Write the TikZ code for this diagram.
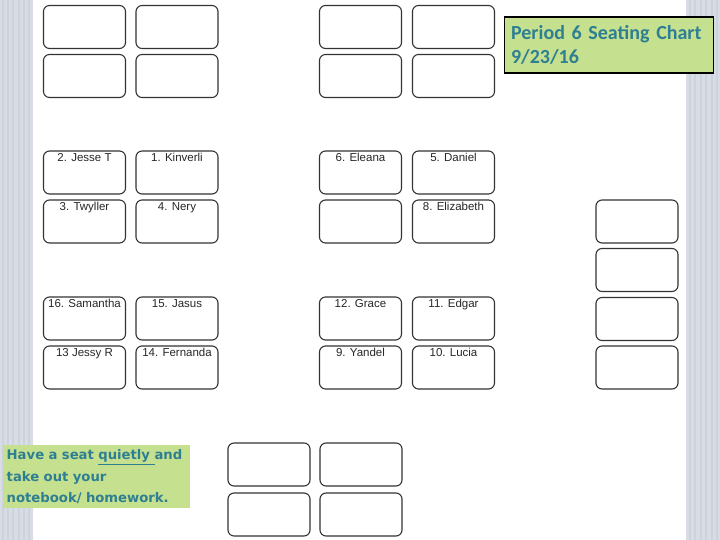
\documentclass[tikz,border=0pt]{standalone}
\usepackage{fontspec}
\setmainfont{Liberation Sans}
\newfontfamily\titlefont{Carlito}
\newfontfamily\notefont{DejaVu Sans}
\usetikzlibrary{positioning}

\definecolor{stripgray}{HTML}{D8DDE5}
\definecolor{stripline}{HTML}{CDD3DC}
\definecolor{notegreen}{HTML}{C5E08F}
\definecolor{noteteal}{HTML}{2F7F92}
\definecolor{deskline}{HTML}{333333}

\tikzset{
  desk/.style={draw=deskline, line width=1.1pt, rounded corners=6pt, minimum width=82pt, minimum height=43pt, inner sep=0pt},
  seat/.style={anchor=north, inner sep=0pt, yshift=-3pt, font=\fontsize{11.5}{13}\selectfont, text=black!85},
  notebox/.style={fill=notegreen, text=noteteal, anchor=north west, align=left}
}

\begin{document}
\begin{tikzpicture}[x=1pt,y=-1pt]

\useasboundingbox (0,0) rectangle (720,540);

\fill [stripgray] (0,0) rectangle (33,540);
\fill [stripgray] (686,0) rectangle (720,540);
\foreach \x in {3,8,13,19,24,29} \draw [stripline, line width=1.2pt] (\x,0) -- (\x,540);
\foreach \x in {690,695,701,706,712,717} \draw [stripline, line width=1.2pt] (\x,0) -- (\x,540);

\node [desk] (e1) at (84.5,27) {};
\node [desk] (e2) at (177,27) {};
\node [desk] (e3) at (84.5,76) {};
\node [desk] (e4) at (177,76) {};

\node [desk] (e5) at (360.5,27) {};
\node [desk] (e6) at (453.5,27) {};
\node [desk] (e7) at (360.5,76) {};
\node [desk] (e8) at (453.5,76) {};

\node [desk, label={[seat]north:2. Jesse T}] (s2) at (84.5,172.5) {};
\node [desk, label={[seat]north:1. Kinverli}] (s1) at (177,172.5) {};
\node [desk, label={[seat]north:3. Twyller}] (s3) at (84.5,221.5) {};
\node [desk, label={[seat]north:4. Nery}] (s4) at (177,221.5) {};

\node [desk, label={[seat]north:6. Eleana}] (s6) at (360.5,172.5) {};
\node [desk, label={[seat]north:5. Daniel}] (s5) at (453.5,172.5) {};
\node [desk] (e9) at (360.5,221.5) {};
\node [desk, label={[seat]north:8. Elizabeth}] (s8) at (453.5,221.5) {};

\node [desk, label={[seat]north:16. Samantha}] (s16) at (84.5,318.5) {};
\node [desk, label={[seat]north:15. Jasus}] (s15) at (177,318.5) {};
\node [desk, label={[seat]north:13 Jessy R}] (s13) at (84.5,367.5) {};
\node [desk, label={[seat]north:14. Fernanda}] (s14) at (177,367.5) {};

\node [desk, label={[seat]north:12. Grace}] (s12) at (360.5,318.5) {};
\node [desk, label={[seat]north:11. Edgar}] (s11) at (453.5,318.5) {};
\node [desk, label={[seat]north:9. Yandel}] (s9) at (360.5,367.5) {};
\node [desk, label={[seat]north:10. Lucia}] (s10) at (453.5,367.5) {};

\node [desk] (r1) at (637,221.5) {};
\node [desk] (r2) at (637,270) {};
\node [desk] (r3) at (637,319) {};
\node [desk] (r4) at (637,367.5) {};

\node [desk] (b1) at (269,464.5) {};
\node [desk] (b2) at (361,464.5) {};
\node [desk] (b3) at (269,514.5) {};
\node [desk] (b4) at (361,514.5) {};

\node [notebox, draw=black, line width=1.2pt, minimum width=208pt, minimum height=56pt, text width=195pt, inner xsep=7pt,
  font=\titlefont\bfseries\fontsize{20}{24}\selectfont] (title) at (503.5,16.5) {Period 6 Seating Chart\\9/23/16};

\node [notebox, minimum width=187pt, minimum height=63pt, text width=180pt, inner xsep=3.5pt,
  font=\notefont\bfseries\fontsize{13.2}{21.5}\selectfont] (note) at (3,445) {Have a seat \underline{quietly\ }and\\take out your\\notebook/ homework.};

\end{tikzpicture}
\end{document}
